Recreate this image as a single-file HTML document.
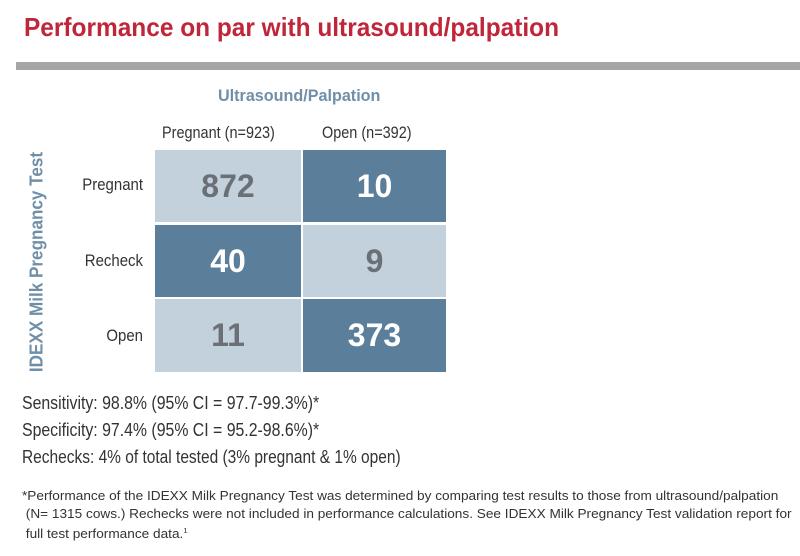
<!DOCTYPE html>
<html><head><meta charset="utf-8"><style>
body{margin:0;width:800px;height:556px;background:#fff;position:relative;overflow:hidden;font-family:"Liberation Sans Narrow","Liberation Sans",sans-serif;}
.a{position:absolute;white-space:nowrap;transform-origin:0 0;}
.c{position:absolute;display:flex;align-items:center;justify-content:center;font-family:"Liberation Sans",sans-serif;font-weight:bold;font-size:32px;}
.l{background:#c3d1dd;color:#6b7077;}
.d{background:#5b7f9b;color:#fff;}
.r{position:absolute;width:160px;text-align:right;font-size:17px;color:#333;left:-17px;transform:scaleX(0.88);transform-origin:100% 0;}
</style></head><body>
<div class="a" style="left:24px;top:12px;font-size:26px;font-weight:bold;color:#c0263a;transform:scaleX(0.94);">Performance on par with ultrasound/palpation</div>
<div class="a" style="left:16px;top:62px;width:784px;height:8px;background:#a6a6a6;"></div>
<div class="a" style="left:218px;top:86px;font-size:17px;font-weight:bold;color:#6f8fa8;transform:scaleX(0.95);">Ultrasound/Palpation</div>
<div class="a" style="left:162px;top:123px;font-size:17px;color:#333;transform:scaleX(0.85);">Pregnant (n=923)</div>
<div class="a" style="left:322px;top:123px;font-size:17px;color:#333;transform:scaleX(0.85);">Open (n=392)</div>
<div style="position:absolute;white-space:nowrap;left:37px;top:262px;font-size:18px;font-weight:bold;color:#6f8fa8;transform:translate(-50%,-50%) rotate(-90deg) scaleX(0.95);">IDEXX Milk Pregnancy Test</div>
<div class="r" style="top:175px;">Pregnant</div>
<div class="r" style="top:251px;">Recheck</div>
<div class="r" style="top:326px;">Open</div>
<div class="c l" style="left:155px;top:150px;width:146px;height:72px;">872</div>
<div class="c d" style="left:303px;top:150px;width:143px;height:72px;">10</div>
<div class="c d" style="left:155px;top:225px;width:146px;height:72px;">40</div>
<div class="c l" style="left:303px;top:225px;width:143px;height:72px;">9</div>
<div class="c l" style="left:155px;top:299px;width:146px;height:73px;">11</div>
<div class="c d" style="left:303px;top:299px;width:143px;height:73px;">373</div>
<div class="a" style="left:22px;top:393px;font-size:18px;color:#333;transform:scaleX(0.88);">Sensitivity: 98.8% (95% CI = 97.7-99.3%)*</div>
<div class="a" style="left:22px;top:420px;font-size:18px;color:#333;transform:scaleX(0.88);">Specificity: 97.4% (95% CI = 95.2-98.6%)*</div>
<div class="a" style="left:22px;top:447px;font-size:18px;color:#333;transform:scaleX(0.86);">Rechecks: 4% of total tested (3% pregnant &amp; 1% open)</div>
<div class="a" style="left:22px;top:487px;font-size:12.5px;color:#333;line-height:18px;transform:scaleX(1.09);">*Performance of the IDEXX Milk Pregnancy Test was determined by comparing test results to those from ultrasound/palpation<br>&nbsp;(N= 1315 cows.) Rechecks were not included in performance calculations. See IDEXX Milk Pregnancy Test validation report for<br>&nbsp;full test performance data.<sup style="font-size:7px">1</sup></div>
</body></html>
